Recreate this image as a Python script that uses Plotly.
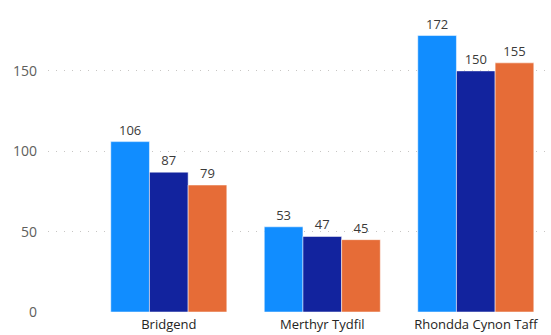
import plotly.graph_objects as go

categories = ["Bridgend", "Merthyr Tydfil", "Rhondda Cynon Taff"]
series_names = ["Series 1", "Series 2", "Series 3"]
series_values = [
    [106, 53, 172],
    [87, 47, 150],
    [79, 45, 155],
]
colors = ["#118DFF", "#12239E", "#E66C37"]
y_ticks = [0, 50, 100, 150]

fig = go.Figure()
for name, vals, col in zip(series_names, series_values, colors):
    fig.add_trace(go.Bar(
        x=list(range(len(categories))), y=vals, name=name,
        marker=dict(color=col, line=dict(color="rgba(255,255,255,0.5)", width=1)),
        text=vals, textposition="outside", cliponaxis=False,
        textfont=dict(family="Segoe UI, Open Sans, sans-serif", size=13, color="#3B3A39"),
    ))

fig.update_layout(
    width=551, height=335,
    margin=dict(l=48, r=0, t=5, b=23),
    barmode="group", bargap=0.244, bargroupgap=0,
    showlegend=False,
    plot_bgcolor="white", paper_bgcolor="white",
    font=dict(family="Segoe UI, Open Sans, sans-serif", size=12, color="#605E5C"),
)
fig.update_xaxes(
    tickmode="array", tickvals=list(range(len(categories))), ticktext=categories,
    range=[-0.787, 2.49], showgrid=False, zeroline=False, showline=False,
    tickfont=dict(size=13, color="#252423"), ticks="", ticklabelstandoff=3,
)
fig.update_yaxes(
    tickvals=y_ticks, range=[0, 191], showgrid=True, gridcolor="#C8C6C4",
    griddash="1px 7px", gridwidth=1, zeroline=False, showline=False,
    tickfont=dict(size=14, color="#605E5C"), ticklabelstandoff=10,
)
fig.write_html(
    "out.html",
    config={"displayModeBar": False},
    post_script="document.body.style.margin='0';document.body.style.overflow='hidden';",
)
